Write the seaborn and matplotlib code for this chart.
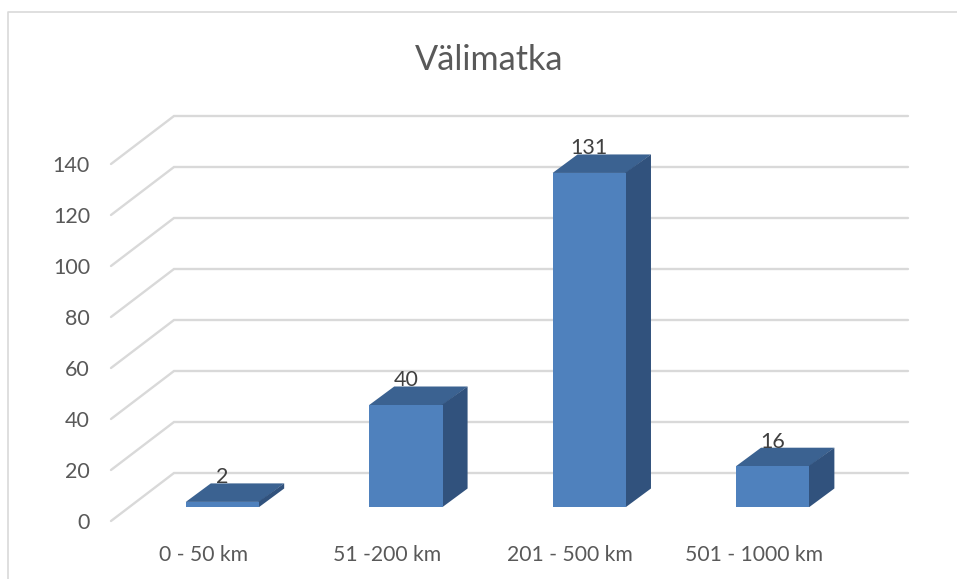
import matplotlib
matplotlib.use("Agg")
import matplotlib.pyplot as plt
import pandas as pd
import seaborn as sns

categories = ["0 - 50 km", "51 -200 km", "201 - 500 km", "501 - 1000 km"]
values = [2, 40, 131, 16]
y_ticks = [0, 20, 40, 60, 80, 100, 120, 140]

WIDTH, HEIGHT = 957, 579
CAT_PX = 183.4      # pixels per category
VAL_PX = 2.55       # pixels per unit
X0_PX, Y0_PX = 222.5, 507   # where category 0 / value 0 sit

FRONT = "#4F81BD"
TOP = "#3B6291"
SIDE = "#31527D"
GRID = "#D9D9D9"
TEXT = "#595959"


def px_x(dx):
    return dx / CAT_PX


def px_y(dy):
    return dy / VAL_PX


sns.set_theme(style="white")
plt.rcParams["font.family"] = ["Lato", "DejaVu Sans"]

df = pd.DataFrame({"matka": categories, "lkm": values})

fig, ax = plt.subplots(figsize=(WIDTH / 100, HEIGHT / 100), dpi=100)
ax.set_position([0, 0, 1, 1])

sns.barplot(data=df, x="matka", y="lkm", order=categories, color=FRONT,
            saturation=1, width=0.4, ax=ax, zorder=4, linewidth=0)

ax.set_xlim(-X0_PX / CAT_PX, (WIDTH - X0_PX) / CAT_PX)
ax.set_ylim(-(HEIGHT - Y0_PX) / VAL_PX, Y0_PX / VAL_PX)
ax.axis("off")

# walls: grid runs along the left wall, then across the back
wall_left = px_x(111 - X0_PX)
back_left = px_x(174 - X0_PX)
back_right = px_x(908 - X0_PX)
wall_front = px_y(Y0_PX - 521)
wall_back = px_y(Y0_PX - 473)
for v in y_ticks:
    ax.plot([wall_left, back_left, back_right],
            [v + wall_front, v + wall_back, v + wall_back],
            color=GRID, lw=1.7, zorder=1, solid_joinstyle="miter")
    ax.text(wall_left - px_x(21), v + wall_front, str(v), ha="right",
            va="center_baseline", fontsize=15.5, color=TEXT)

# 3D depth of the bars, built from the bars seaborn drew
depth_x = px_x(25)
depth_y = px_y(18.5)
seam = px_x(1)  # side face tucks under the front so no light seam shows
for bar, val, cat in zip(ax.patches, values, categories):
    left = bar.get_x()
    right = left + bar.get_width()
    top = bar.get_height()
    ax.fill([left, left + depth_x, right + depth_x, right],
            [top, top + depth_y, top + depth_y, top],
            color=TOP, lw=0, zorder=3)
    ax.fill([right - seam, right, right + depth_x, right + depth_x, right - seam],
            [0, 0, depth_y, top + depth_y, top],
            color=SIDE, lw=0, zorder=3)
    center = left + bar.get_width() / 2
    ax.text(center, top + depth_y, str(val), ha="center", va="baseline",
            fontsize=15.5, color="#404040", zorder=6)
    # category labels sit on the front plane, left of the bars
    ax.text(center - px_x(19), px_y(Y0_PX - 553), cat, ha="center",
            va="center_baseline", fontsize=15.2, color=TEXT)

ax.text(0.511, 1 - 57 / HEIGHT, "Välimatka", transform=ax.transAxes,
        ha="center", va="center_baseline", fontsize=24.7, color=TEXT)

# chart frame
ax.plot([8 / WIDTH, 8 / WIDTH, 1], [0, 1 - 12 / HEIGHT, 1 - 12 / HEIGHT],
        transform=ax.transAxes, color=GRID, lw=1.2, clip_on=False)

fig.savefig("out.png", dpi=100)
